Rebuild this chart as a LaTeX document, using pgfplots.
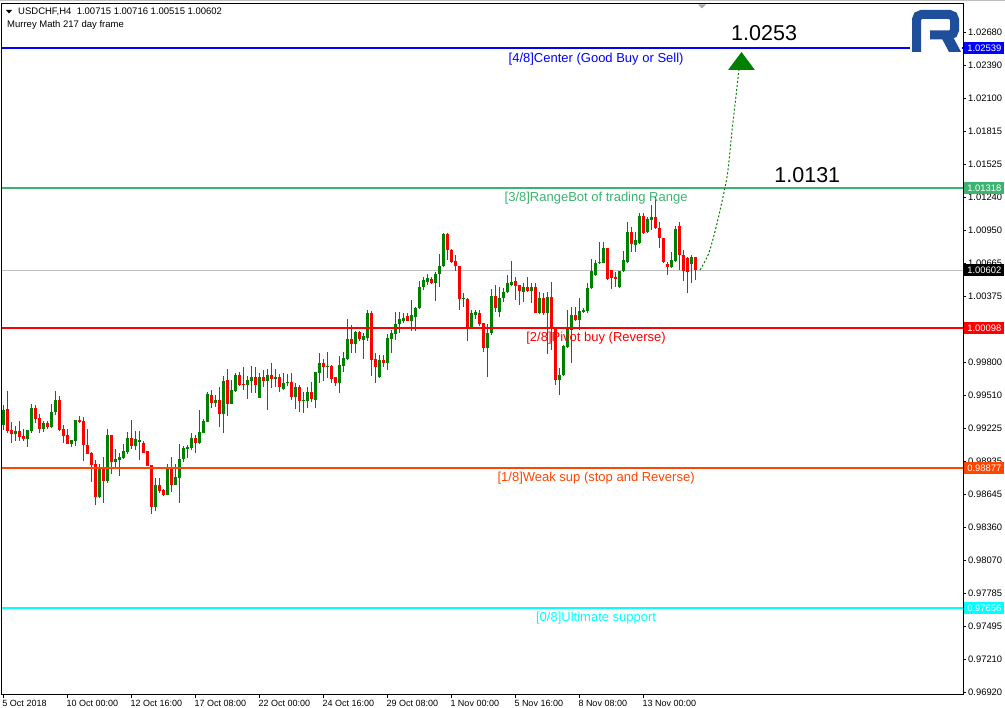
\documentclass[border=0pt]{standalone}
\usepackage{pgfplots}
\pgfplotsset{compat=1.18}
\usepackage{pgfplotstable}
\usepackage{fontspec}
\setmainfont{Liberation Sans}
\definecolor{cup}{HTML}{008000}
\definecolor{cdn}{HTML}{FF0000}
\definecolor{lblue}{HTML}{0000FF}
\definecolor{lgreen}{HTML}{3CB371}
\definecolor{lred}{HTML}{FF0000}
\definecolor{lorange}{HTML}{FF4500}
\definecolor{lcyan}{HTML}{00FFFF}
\definecolor{lsilver}{HTML}{C0C0C0}
\definecolor{logob}{HTML}{1F4E9A}
\newcommand{\xtfont}{\fontsize{9}{10.8}\selectfont}
\newcommand{\ytfont}{\fontsize{9.4}{11}\selectfont}
\newcommand{\lvfont}{\fontsize{13}{15}\selectfont}
\newcommand{\hdfont}{\fontsize{9.5}{11}\selectfont}

\pgfplotstableread{
x o h l c
0 0.99253 0.99427 0.99209 0.99384
1 0.99392 0.99550 0.99183 0.99200
2 0.99209 0.99279 0.99096 0.99174
3 0.99174 0.99244 0.99113 0.99200
4 0.99200 0.99288 0.99113 0.99148
5 0.99157 0.99218 0.99113 0.99131
6 0.99131 0.99211 0.99061 0.99209
7 0.99200 0.99436 0.99183 0.99401
8 0.99401 0.99427 0.99270 0.99305
9 0.99314 0.99349 0.99183 0.99218
10 0.99218 0.99288 0.99192 0.99270
11 0.99270 0.99288 0.99218 0.99235
12 0.99235 0.99436 0.99227 0.99366
13 0.99366 0.99550 0.99340 0.99471
14 0.99471 0.99506 0.99200 0.99209
15 0.99218 0.99253 0.99096 0.99157
16 0.99165 0.99218 0.99085 0.99087
17 0.99087 0.99124 0.99061 0.99122
18 0.99113 0.99298 0.99070 0.99296
19 0.99296 0.99331 0.99270 0.99279
20 0.99288 0.99323 0.98938 0.99078
21 0.99078 0.99218 0.98998 0.99000
22 0.99008 0.99017 0.98755 0.98904
23 0.98912 0.98947 0.98554 0.98624
24 0.98624 0.98912 0.98615 0.98878
25 0.98878 0.98973 0.98572 0.98764
26 0.98764 0.99218 0.98747 0.99165
27 0.99165 0.99167 0.98825 0.98930
28 0.98930 0.99043 0.98886 0.98956
29 0.98947 0.99008 0.98808 0.98973
30 0.98965 0.99087 0.98956 0.99026
31 0.99017 0.99192 0.98998 0.99139
32 0.99139 0.99296 0.99043 0.99070
33 0.99070 0.99200 0.99035 0.99131
34 0.99105 0.99200 0.98947 0.99122
35 0.99096 0.99113 0.99005 0.99008
36 0.99026 0.99028 0.98893 0.98895
37 0.98904 0.98906 0.98476 0.98537
38 0.98537 0.98790 0.98502 0.98729
39 0.98729 0.98790 0.98659 0.98677
40 0.98686 0.98694 0.98633 0.98642
41 0.98642 0.98912 0.98640 0.98878
42 0.98878 0.98973 0.98668 0.98729
43 0.98729 0.98912 0.98727 0.98799
44 0.98790 0.99087 0.98572 0.98956
45 0.98956 0.99070 0.98930 0.99052
46 0.99043 0.99078 0.98965 0.99061
47 0.99052 0.99183 0.99035 0.99139
48 0.99139 0.99165 0.99008 0.99096
49 0.99096 0.99384 0.99087 0.99192
50 0.99183 0.99305 0.99181 0.99288
51 0.99279 0.99541 0.99277 0.99523
52 0.99515 0.99558 0.99401 0.99445
53 0.99445 0.99515 0.99410 0.99471
54 0.99471 0.99585 0.99235 0.99349
55 0.99349 0.99681 0.99183 0.99637
56 0.99646 0.99741 0.99331 0.99436
57 0.99436 0.99646 0.99434 0.99558
58 0.99550 0.99707 0.99541 0.99690
59 0.99690 0.99716 0.99593 0.99602
60 0.99611 0.99759 0.99558 0.99602
61 0.99602 0.99681 0.99480 0.99646
62 0.99637 0.99768 0.99532 0.99672
63 0.99672 0.99759 0.99532 0.99602
64 0.99489 0.99707 0.99487 0.99672
65 0.99672 0.99733 0.99585 0.99637
66 0.99637 0.99741 0.99384 0.99690
67 0.99690 0.99794 0.99576 0.99655
68 0.99655 0.99741 0.99585 0.99672
69 0.99672 0.99698 0.99541 0.99585
70 0.99567 0.99707 0.99558 0.99620
71 0.99620 0.99698 0.99593 0.99628
72 0.99628 0.99707 0.99471 0.99497
73 0.99497 0.99620 0.99392 0.99585
74 0.99585 0.99602 0.99366 0.99462
75 0.99462 0.99541 0.99358 0.99471
76 0.99462 0.99585 0.99401 0.99541
77 0.99541 0.99628 0.99454 0.99480
78 0.99471 0.99718 0.99401 0.99716
79 0.99707 0.99881 0.99620 0.99794
80 0.99794 0.99829 0.99637 0.99759
81 0.99759 0.99890 0.99663 0.99768
82 0.99768 0.99777 0.99620 0.99655
83 0.99672 0.99674 0.99593 0.99620
84 0.99620 0.99855 0.99532 0.99777
85 0.99768 0.99890 0.99716 0.99838
86 0.99829 1.00178 0.99820 1.00004
87 1.00004 1.00126 0.99881 0.99960
88 0.99960 1.00073 0.99881 1.00065
89 1.00065 1.00073 0.99986 1.00004
90 0.99995 1.00056 0.99829 1.00030
91 1.00012 1.00257 0.99986 1.00231
92 1.00231 1.00248 0.99681 0.99820
93 0.99829 0.99881 0.99620 0.99759
94 0.99672 0.99864 0.99663 0.99820
95 0.99820 0.99864 0.99759 0.99794
96 0.99794 1.00047 0.99733 1.00012
97 1.00004 1.00082 0.99881 1.00056
98 1.00047 1.00239 0.99995 1.00134
99 1.00134 1.00239 1.00056 1.00178
100 1.00161 1.00231 1.00143 1.00187
101 1.00204 1.00231 1.00159 1.00161
102 1.00161 1.00344 1.00073 1.00213
103 1.00196 1.00283 1.00073 1.00274
104 1.00274 1.00510 1.00265 1.00457
105 1.00457 1.00545 1.00431 1.00519
106 1.00501 1.00571 1.00475 1.00536
107 1.00527 1.00545 1.00484 1.00492
108 1.00492 1.00588 1.00335 1.00571
109 1.00571 1.00746 1.00457 1.00641
110 1.00641 1.00929 1.00632 1.00920
111 1.00920 1.00929 1.00693 1.00780
112 1.00780 1.00789 1.00667 1.00676
113 1.00684 1.00737 1.00597 1.00641
114 1.00641 1.00643 1.00257 1.00353
115 1.00353 1.00405 1.00283 1.00361
116 1.00353 1.00361 0.99986 1.00100
117 1.00100 1.00257 1.00098 1.00231
118 1.00213 1.00257 1.00178 1.00239
119 1.00231 1.00257 1.00117 1.00134
120 1.00143 1.00145 0.99890 0.99925
121 0.99925 1.00134 0.99672 1.00056
122 1.00056 1.00440 1.00038 1.00379
123 1.00379 1.00475 1.00239 1.00274
124 1.00239 1.00457 1.00196 1.00361
125 1.00361 1.00449 1.00327 1.00414
126 1.00414 1.00562 1.00405 1.00492
127 1.00475 1.00684 1.00466 1.00501
128 1.00510 1.00545 1.00344 1.00466
129 1.00475 1.00477 1.00300 1.00423
130 1.00414 1.00492 1.00327 1.00457
131 1.00457 1.00545 1.00414 1.00423
132 1.00423 1.00492 1.00318 1.00457
133 1.00457 1.00492 1.00229 1.00231
134 1.00231 1.00414 1.00222 1.00361
135 1.00361 1.00405 1.00213 1.00231
136 1.00231 1.00414 0.99873 1.00370
137 1.00370 1.00501 0.99905 1.00108
138 1.00108 1.00110 0.99602 0.99646
139 0.99646 0.99750 0.99515 0.99690
140 0.99690 0.99951 0.99681 0.99943
141 0.99934 1.00257 0.99925 1.00108
142 1.00082 1.00283 0.99794 1.00213
143 1.00213 1.00283 1.00161 1.00170
144 1.00170 1.00361 1.00082 1.00248
145 1.00239 1.00274 1.00231 1.00257
146 1.00248 1.00492 1.00231 1.00449
147 1.00449 1.00702 1.00440 1.00597
148 1.00562 1.00693 1.00553 1.00667
149 1.00667 1.00850 1.00658 1.00676
150 1.00667 1.00850 1.00665 1.00798
151 1.00798 1.00800 1.00519 1.00527
152 1.00606 1.00608 1.00440 1.00536
153 1.00545 1.00588 1.00457 1.00527
154 1.00457 1.00599 1.00449 1.00597
155 1.00597 1.00772 1.00588 1.00693
156 1.00676 1.01024 1.00667 1.00937
157 1.00937 1.00981 1.00763 1.00833
158 1.00824 1.00937 1.00763 1.00868
159 1.00842 1.01102 1.00833 1.01076
160 1.01076 1.01102 1.00920 1.00929
161 1.00937 1.01067 1.00929 1.01050
162 1.01041 1.01172 1.00955 1.01067
163 1.01067 1.01242 1.00963 1.00972
164 1.00972 1.01024 1.00798 1.00885
165 1.00885 1.00887 1.00667 1.00676
166 1.00658 1.00676 1.00562 1.00632
167 1.00632 1.00763 1.00623 1.00693
168 1.00684 1.00990 1.00676 1.00963
169 1.00990 1.01024 1.00606 1.00737
170 1.00737 1.00780 1.00510 1.00597
171 1.00711 1.00719 1.00405 1.00588
172 1.00658 1.00737 1.00492 1.00719
173 1.00715 1.00716 1.00515 1.00602
}\candles

\begin{document}
\begin{tikzpicture}[x=1pt,y=1pt]
\fill[white] (0,0) rectangle (1005,708);
\draw[gray!50, line width=1pt] (0,707.5) -- (1005,707.5);
\begin{axis}[
  at={(2pt,13pt)}, anchor=south west,
  scale only axis, width=961pt, height=691.5pt,
  xmin=-0.325, xmax=239.925, ymin=0.968963, ymax=1.029313,
  axis line style={black, line width=1pt},
  tick style={black, line width=0.8pt},
  tick align=outside, major tick length=3pt,
  xtick pos=bottom, ytick pos=right, yticklabel pos=right,
  xtick={0,16,...,160},
  xticklabels={5 Oct 2018, 10 Oct 00:00, 12 Oct 16:00, 17 Oct 08:00, 22 Oct 00:00, 24 Oct 16:00, 29 Oct 08:00, 1 Nov 00:00, 5 Nov 16:00, 8 Nov 08:00, 13 Nov 00:00},
  ytick={1.02680,1.02390,1.02100,1.01815,1.01525,1.01240,1.00950,1.00665,1.00375,1.00090,0.99800,0.99510,0.99225,0.98935,0.98645,0.98360,0.98070,0.97785,0.97495,0.97210,0.96920},
  yticklabels={1.02680,1.02390,1.02100,1.01815,1.01525,1.01240,1.00950,1.00665,1.00375,{},0.99800,0.99510,0.99225,0.98935,0.98645,0.98360,0.98070,0.97785,0.97495,0.97210,0.96920},
  xticklabel style={anchor=north west, inner sep=0pt, font=\xtfont, yshift=-2pt, xshift=-1pt},
  yticklabel style={anchor=west, inner sep=0pt, font=\ytfont, xshift=2pt},
  clip=false,
  unbounded coords=discard,
]
% current price line (behind candles)
\addplot[lsilver, line width=1pt, forget plot] coordinates {(-0.325,1.00602) (239.925,1.00602)};
% up candles
\addplot[draw=none, mark=none, forget plot, error bars/.cd, y dir=plus, y explicit, error mark=none, error bar style={draw=cup, line width=1pt}]
  table[x=x, y expr={\thisrow{c}>=\thisrow{o} ? \thisrow{l} : nan}, y error plus expr={\thisrow{h}-\thisrow{l}}]{\candles};
\addplot[draw=none, mark=none, forget plot, error bars/.cd, y dir=plus, y explicit, error mark=none, error bar style={draw=cup, line width=3pt}]
  table[x=x, y expr={\thisrow{c}>=\thisrow{o} ? \thisrow{o} : nan}, y error plus expr={\thisrow{c}-\thisrow{o}}]{\candles};
% down candles
\addplot[draw=none, mark=none, forget plot, error bars/.cd, y dir=plus, y explicit, error mark=none, error bar style={draw=cdn, line width=1pt}]
  table[x=x, y expr={\thisrow{c}<\thisrow{o} ? \thisrow{l} : nan}, y error plus expr={\thisrow{h}-\thisrow{l}}]{\candles};
\addplot[draw=none, mark=none, forget plot, error bars/.cd, y dir=plus, y explicit, error mark=none, error bar style={draw=cdn, line width=3pt}]
  table[x=x, y expr={\thisrow{c}<\thisrow{o} ? \thisrow{c} : nan}, y error plus expr={\thisrow{o}-\thisrow{c}}]{\candles};
% Murrey levels
\addplot[lblue, line width=2pt, forget plot] coordinates {(-0.325,1.02539) (239.925,1.02539)};
\addplot[lgreen, line width=2pt, forget plot] coordinates {(-0.325,1.01318) (239.925,1.01318)};
\addplot[lred, line width=2pt, forget plot] coordinates {(-0.325,1.00098) (239.925,1.00098)};
\addplot[lorange, line width=2pt, forget plot] coordinates {(-0.325,0.98877) (239.925,0.98877)};
\addplot[lcyan, line width=2pt, forget plot] coordinates {(-0.325,0.97656) (239.925,0.97656)};
% level texts
\node[lblue, font=\lvfont, anchor=north, inner sep=0pt, yshift=-4pt] at (axis cs:148.2,1.02539) {[4/8]Center (Good Buy or Sell)};
\node[lgreen, font=\lvfont, anchor=north, inner sep=0pt, yshift=-4pt] at (axis cs:148.2,1.01318) {[3/8]RangeBot of trading Range};
\node[lred, font=\lvfont, anchor=north, inner sep=0pt, yshift=-4pt] at (axis cs:148.2,1.00098) {[2/8]Pivot buy (Reverse)};
\node[lorange, font=\lvfont, anchor=north, inner sep=0pt, yshift=-4pt] at (axis cs:148.2,0.98877) {[1/8]Weak sup (stop and Reverse)};
\node[lcyan, font=\lvfont, anchor=north, inner sep=0pt, yshift=-4pt] at (axis cs:148.2,0.97656) {[0/8]Ultimate support};
% forecast
\addplot[cup, line width=1pt, dash pattern=on 2pt off 2pt, smooth, forget plot] coordinates {(174.2,1.00606) (176.2,1.00737) (177.7,1.00911) (179.2,1.01129) (181.0,1.01434) (182.2,1.01827) (183.2,1.02132) (183.9,1.02351)};
\addplot[fill=cup, draw=none, forget plot] coordinates {(181.2,1.02351) (187.9,1.02351) (184.55,1.02508)} -- cycle;
\node[font=\fontsize{21.5}{25}\selectfont, anchor=center, inner sep=0pt] at (axis cs:190.2,1.02672) {1.0253};
\node[font=\fontsize{21.5}{25}\selectfont, anchor=center, inner sep=0pt] at (axis cs:201.0,1.01434) {1.0131};
% price tag anchors
\coordinate (pb) at (axis cs:240.2,1.02539);
\coordinate (pg) at (axis cs:240.2,1.01318);
\coordinate (pk) at (axis cs:240.2,1.00602);
\coordinate (pr) at (axis cs:240.2,1.00098);
\coordinate (po) at (axis cs:240.2,0.98877);
\coordinate (pc) at (axis cs:240.2,0.97656);
\end{axis}
% price tags
\tikzset{ptag/.style={text=white, font=\ytfont, anchor=west, minimum width=40pt, minimum height=12pt, inner sep=0pt}}
\node[ptag, fill=lblue] at (pb) {1.02539};
\node[ptag, fill=lgreen] at (pg) {1.01318};
\node[ptag, fill=black] at (pk) {1.00602};
\node[ptag, fill=lred] at (pr) {1.00098};
\node[ptag, fill=lorange] at (po) {0.98877};
\node[ptag, fill=lcyan] at (pc) {0.97656};
% header
\fill[black] (6,698) -- (12,698) -- (9,694.5) -- cycle;
\node[anchor=base west, font=\hdfont, inner sep=0pt] at (18,693) {USDCHF,H4\ \ 1.00715 1.00716 1.00515 1.00602};
\node[anchor=base west, font=\hdfont, inner sep=0pt] at (7,680) {Murrey Math 217 day frame};
% shift marker
\fill[gray!70] (698,703.5) -- (706,703.5) -- (702,699.5) -- cycle;
% logo
\fill[white] (910,654) rectangle (962,700);
\draw[logob, line width=9pt, rounded corners=5pt] (916.5,656) -- (916.5,693.5) -- (954.5,693.5) -- (954.5,673) -- (930,673);
\fill[logob] (940,673) -- (952,673) -- (961,656) -- (949,656) -- cycle;
% fix page size
\pgfresetboundingbox
\path[use as bounding box] (0,0) rectangle (1005,708);
\end{tikzpicture}
\end{document}
